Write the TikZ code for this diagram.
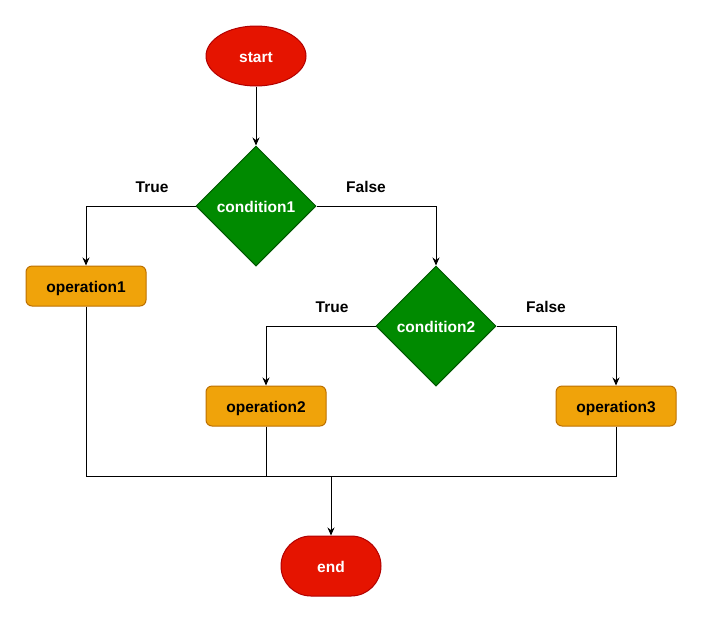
\documentclass[tikz,border=0pt]{standalone}
\usepackage{fontspec}
\setmainfont{Liberation Sans}
\usetikzlibrary{shapes.geometric,shapes.misc,arrows.meta}
\definecolor{termfill}{HTML}{E51400}
\definecolor{termline}{HTML}{B20000}
\definecolor{condfill}{HTML}{008A00}
\definecolor{condline}{HTML}{005700}
\definecolor{opfill}{HTML}{F0A30A}
\definecolor{opline}{HTML}{BD7000}
\begin{document}
\begin{tikzpicture}[x=1pt,y=-1pt,
  every node/.style={font=\fontsize{15.5}{18}\selectfont\bfseries,text height=12pt,text depth=0pt},
  terminal/.style={draw=termline,fill=termfill,text=white,line width=1pt},
  startnode/.style={terminal,ellipse,minimum width=100pt,minimum height=60pt,inner sep=0pt},
  endnode/.style={terminal,rounded rectangle,minimum width=100pt,minimum height=60pt,inner sep=0pt},
  decision/.style={diamond,draw=condline,fill=condfill,text=white,line width=1pt,
    minimum width=120pt,minimum height=120pt,inner sep=0pt},
  opbox/.style={rectangle,rounded corners=6pt,draw=opline,fill=opfill,text=black,line width=1pt,
    minimum width=120pt,minimum height=40pt,inner sep=0pt},
  link/.style={line width=1pt,black},
  arrow/.style={link,-{Stealth[length=8pt,width=7pt]}},
  branch/.style={text=black}
]
\useasboundingbox (0,0) rectangle (712,625);

% nodes
\node[startnode] (start) at (256,56) {start};
\node[decision] (c1) at (256,206) {condition1};
\node[opbox] (op1) at (86,286) {operation1};
\node[decision] (c2) at (436,326) {condition2};
\node[opbox] (op2) at (266,406) {operation2};
\node[opbox] (op3) at (616,406) {operation3};
\node[endnode] (end) at (331,566) {end};
\coordinate (bus) at (331,476);

% branch labels
\node[branch] (t1) at (152,186) {True};
\node[branch] (f1) at (366,186) {False};
\node[branch] (t2) at (332,306) {True};
\node[branch] (f2) at (546,306) {False};

% connectors
\draw[arrow] (start) -- (c1);
\draw[arrow] (c1.west) -| (op1.north);
\draw[arrow] (c1.east) -| (c2.north);
\draw[arrow] (c2.west) -| (op2.north);
\draw[arrow] (c2.east) -| (op3.north);
\draw[link] (op1.south) -- (op1.south |- bus) -- (op3.south |- bus) -- (op3.south);
\draw[link] (op2.south) -- (op2.south |- bus);
\draw[arrow] (bus) -- (end);
\end{tikzpicture}
\end{document}
